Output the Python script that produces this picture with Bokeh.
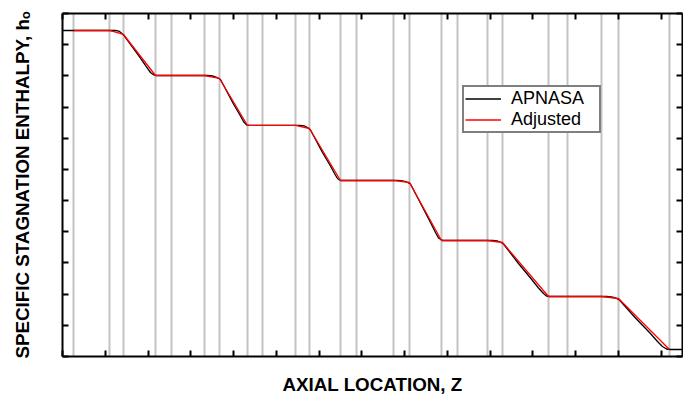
from bokeh.plotting import figure
from bokeh.models import (LinearAxis, FixedTicker, Legend, LegendItem, Range1d,
                          ColumnDataSource, CustomLabelingPolicy)
from bokeh.embed import file_html
from bokeh.resources import INLINE

# Axial stations (blade-row edges) marked with vertical lines
stations = [0.257, 1.099, 1.427, 2.175, 2.549, 3.321, 3.672, 4.327, 4.677, 5.449,
            5.776, 6.501, 6.876, 7.741, 8.115, 8.863, 9.238, 9.939, 10.290, 11.366,
            11.810, 12.605, 13.003, 14.195]

# APNASA stagnation enthalpy distribution
apnasa_z = [0.0, 1.239, 1.333, 1.427, 1.777, 1.964, 2.058, 2.128, 2.198,
            3.391, 3.508, 3.601, 3.695, 3.999, 4.163, 4.233, 4.303, 4.373,
            5.543, 5.659, 5.730, 5.800, 6.080, 6.267, 6.361, 6.431, 6.501,
            7.834, 7.951, 8.045, 8.138, 8.419, 8.606, 8.723, 8.793, 8.887,
            10.056, 10.173, 10.243, 10.313, 10.664, 10.945, 11.132, 11.249, 11.319, 11.389,
            12.722, 12.839, 12.932, 13.026, 13.400, 13.751, 13.915, 14.031, 14.125, 14.219, 14.5]
apnasa_h = [10.455, 10.455, 10.423, 10.311, 9.654, 9.285, 9.108, 9.035, 9.012,
            9.012, 8.996, 8.955, 8.884, 8.098, 7.713, 7.537, 7.431, 7.409,
            7.409, 7.393, 7.344, 7.264, 6.543, 6.110, 5.869, 5.709, 5.645,
            5.645, 5.629, 5.597, 5.532, 4.795, 4.298, 3.977, 3.801, 3.720,
            3.720, 3.704, 3.672, 3.608, 2.983, 2.518, 2.197, 2.021, 1.940, 1.924,
            1.924, 1.908, 1.876, 1.812, 1.235, 0.738, 0.481, 0.321, 0.241, 0.224, 0.224]

# Adjusted distribution, defined at the axial stations
adjusted_z = [0.257, 1.099, 1.427, 2.175, 3.321, 3.672, 4.327, 5.449, 5.776, 6.501,
              7.741, 8.115, 8.863, 9.939, 10.290, 11.366, 12.605, 13.003, 14.195]
adjusted_h = [10.455, 10.455, 10.327, 9.012, 9.012, 8.916, 7.409, 7.409, 7.312, 5.645,
              5.645, 5.580, 3.720, 3.720, 3.656, 1.924, 1.924, 1.860, 0.224]

x_ticks = list(range(0, 15))
y_ticks = list(range(0, 12))

FONT = "Liberation Sans"

p = figure(width=683, height=397, output_backend="svg", toolbar_location=None,
           x_range=Range1d(0, 14.5), y_range=Range1d(0, 11),
           x_axis_type=None, y_axis_type=None,
           min_border_left=62, min_border_right=1, min_border_top=13, min_border_bottom=41)
p.outline_line_color = None
p.background_fill_color = "white"
p.border_fill_color = "white"

# tick marks only, no numeric labels
no_labels = CustomLabelingPolicy(code="""
try { for (let i = 0; i < indices.size; i++) { indices.unset(i) } } catch (e) {}
return indices
""")


def frame_axis(ticks):
    ax = LinearAxis(ticker=FixedTicker(ticks=ticks))
    ax.axis_line_width = 2
    ax.axis_line_color = "black"
    ax.major_tick_line_width = 2
    ax.major_tick_line_color = "black"
    ax.major_tick_in = 6
    ax.major_tick_out = 0
    ax.minor_tick_line_color = None
    ax.major_label_text_font_size = "0px"
    ax.major_label_standoff = 0
    ax.major_label_policy = no_labels
    ax.axis_label_text_font = FONT
    ax.axis_label_text_font_size = "18.8px"
    ax.axis_label_text_font_style = "bold"
    ax.axis_label_text_color = "black"
    return ax


bottom = frame_axis(x_ticks)
bottom.axis_label = "AXIAL LOCATION, Z"
bottom.axis_label_standoff = 17
bottom.axis_label_text_baseline = "alphabetic"
left = frame_axis(y_ticks)
left.axis_label = "SPECIFIC STAGNATION ENTHALPY, h\u2092"
left.axis_label_standoff = 30

p.add_layout(bottom, "below")
p.add_layout(frame_axis(x_ticks), "above")
p.add_layout(left, "left")
p.add_layout(frame_axis(y_ticks), "right")

st = ColumnDataSource(dict(z=stations, lo=[0] * len(stations), hi=[11] * len(stations)))
p.segment(x0="z", y0="lo", x1="z", y1="hi", source=st, line_color="#c3c3c3", line_width=2)

r_ap = p.line(apnasa_z, apnasa_h, line_color="black", line_width=1.3)
r_adj = p.line(adjusted_z, adjusted_h, line_color="#ff0000", line_width=1.3)

legend = Legend(items=[LegendItem(label="APNASA", renderers=[r_ap]),
                       LegendItem(label="Adjusted", renderers=[r_adj])],
                location=(400, 223))
legend.border_line_color = "black"
legend.border_line_width = 2
legend.background_fill_color = "white"
legend.background_fill_alpha = 1
legend.label_text_font = FONT
legend.label_text_font_size = "18px"
legend.label_text_color = "black"
legend.glyph_width = 36
legend.glyph_height = 21
legend.label_height = 21
legend.label_width = 87
legend.label_standoff = 10
legend.spacing = -2
legend.padding = 1
legend.margin = 0
p.add_layout(legend)

open("out.html", "w").write(file_html(p, INLINE))
